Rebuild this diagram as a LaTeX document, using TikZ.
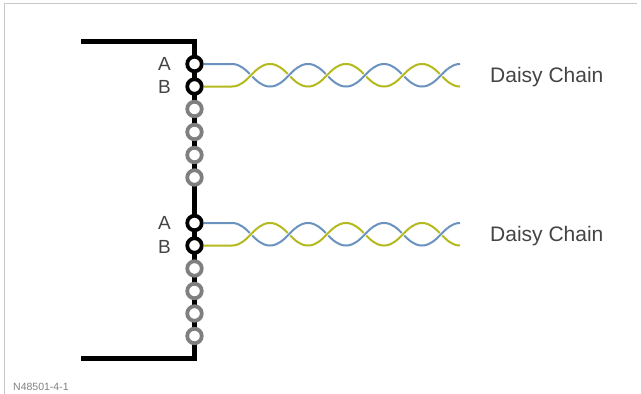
\documentclass[tikz,border=0pt]{standalone}
\usepackage{fontspec}
\setmainfont{Liberation Sans}
\definecolor{wireblue}{HTML}{6A92BE}
\definecolor{wireyellow}{HTML}{B4B91E}
\definecolor{framegray}{HTML}{C8C8C8}
\definecolor{pingray}{HTML}{7F7F7F}
\definecolor{textgray}{HTML}{444444}
\tikzset{
  bus/.style={line width=4.3pt,black,line cap=butt,line join=miter},
  framel/.style={line width=1.8pt,framegray},
  activepin/.style={circle,draw=black,fill=white,line width=3.8pt,minimum size=14.5pt,inner sep=0pt},
  sparepin/.style={circle,draw=pingray,fill=white,line width=3.8pt,minimum size=14.5pt,inner sep=0pt},
  pinlabel/.style={font=\fontsize{19}{19}\selectfont,text=textgray,inner sep=0pt},
  chainlabel/.style={font=\fontsize{21}{22}\selectfont,text=textgray,inner sep=0pt,anchor=west},
  bluewire/.style={line width=2pt,wireblue},
  yellowwire/.style={line width=2pt,wireyellow},
  halo/.style={line width=3.2pt,white},
}
\newcommand{\twistpath}[3]{(#1.east) -- (232,#2)
    \foreach \k in {0,2,4}{
      .. controls ({232+\k*38+16},#2) and ({232+\k*38+22},#3) .. ({232+\k*38+38},#3)
      .. controls ({232+\k*38+54},#3) and ({232+\k*38+60},#2) .. ({232+\k*38+76},#2)
    }}
\begin{document}
\begin{tikzpicture}[x=1pt,y=-1pt]
\useasboundingbox (0,0) rectangle (641,394);
\fill[white] (0,0) rectangle (641,394);
\draw[framel] (4.5,394) -- (4.5,3.5) -- (637,3.5);
\coordinate (bt) at (81,41.5);
\coordinate (bb) at (81,358.5);
\draw[bus] (bt) -- (194.5,41.5) -- (194.5,358.5) -- (bb);
\foreach \n/\y/\s in {a1/64/activepin,b1/86.5/activepin,s1/109/sparepin,s2/132/sparepin,s3/155/sparepin,s4/177.5/sparepin,a2/223/activepin,b2/245.5/activepin,s5/268.5/sparepin,s6/291/sparepin,s7/313.5/sparepin,s8/336/sparepin}
  \node[\s] (\n) at (194.5,\y) {};
\node[pinlabel] (la1) at (164.5,64) {A};
\node[pinlabel] (lb1) at (164.5,87) {B};
\node[pinlabel] (la2) at (164.5,223) {A};
\node[pinlabel] (lb2) at (164.5,246.5) {B};
\node[chainlabel] (d1) at (490,77.5) {Daisy Chain};
\node[chainlabel] (d2) at (490,236.5) {Daisy Chain};
\node[font=\fontsize{10.5}{11}\selectfont,text=gray,inner sep=0pt,anchor=west] (ref) at (13,386.5) {N48501-4-1};
\foreach \p/\q/\yt/\yb in {a1/b1/64/86.5,a2/b2/223/245.5}{
  \draw[yellowwire] \twistpath{\q}{\yb}{\yt};
  \draw[bluewire] \twistpath{\p}{\yt}{\yb};
  % yellow passes over blue at alternate crossings, blue over yellow at the others
  \foreach \c in {251,327,403}{
    \begin{scope}
      \clip (\c-6,\yt-3) rectangle (\c+6,\yb+3);
      \draw[halo] \twistpath{\q}{\yb}{\yt};
      \draw[yellowwire] \twistpath{\q}{\yb}{\yt};
    \end{scope}
  }
  \foreach \c in {289,365,441}{
    \begin{scope}
      \clip (\c-6,\yt-3) rectangle (\c+6,\yb+3);
      \draw[halo] \twistpath{\p}{\yt}{\yb};
      \draw[bluewire] \twistpath{\p}{\yt}{\yb};
    \end{scope}
  }
}
\end{tikzpicture}
\end{document}
